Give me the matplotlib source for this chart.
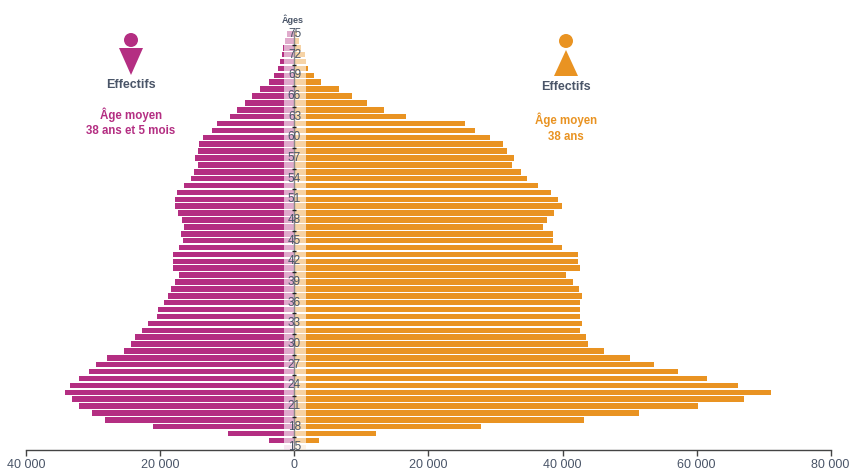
import numpy as np
import matplotlib
matplotlib.use("Agg")
import matplotlib.pyplot as plt
from matplotlib.patches import Circle, Polygon

ages = list(range(16, 76))
hommes = [3800, 9900, 21100, 28300, 30200, 32200, 33200, 34250, 33500, 32200,
          30700, 29600, 28000, 25450, 24400, 23800, 22800, 21900, 20500, 20400,
          19500, 18900, 18400, 17800, 17200, 18100, 18100, 18100, 17200, 16600,
          16900, 16500, 16800, 17400, 17800, 17800, 17500, 16500, 15400, 15000,
          14400, 14850, 14400, 14250, 13650, 12300, 11550, 9600, 8600, 7400,
          6350, 5150, 3800, 3050, 2450, 2150, 1850, 1700, 1400, 1100]
femmes = [3650, 12150, 27850, 43200, 51400, 60200, 67100, 71100, 66200, 61550,
          57250, 53650, 50050, 46200, 43800, 43500, 42600, 42900, 42600, 42600,
          42600, 42900, 42450, 41550, 40500, 42600, 42300, 42300, 39900, 38600,
          38600, 37100, 37700, 38700, 39900, 39300, 38300, 36350, 34700, 33800,
          32450, 32750, 31700, 31100, 29200, 26950, 25450, 16650, 13350, 10800,
          8600, 6650, 3950, 2900, 2000, 1700, 1550, 970, 670, 370]
age_labels = list(range(15, 76, 3))
x_ticks = [-40000, -20000, 0, 20000, 40000, 60000, 80000]
x_tick_labels = ["40 000", "20 000", "0", "20 000", "40 000", "60 000", "80 000"]

PINK = "#B42E82"
ORANGE = "#E99322"
SLATE = "#4A5568"
FONT = ["Liberation Sans", "DejaVu Sans"]
plt.rcParams["font.family"] = FONT

fig = plt.figure(figsize=(8.53, 4.70), dpi=100)
ax = fig.add_axes([0, 0, 1, 1])
ax.patch.set_alpha(0)
ax.set_xlim(-43955, 83358)
ax.set_ylim(11.72, 79.93)

ax.barh(ages, -np.array(hommes), height=0.8, color=PINK, zorder=2)
ax.barh(ages, femmes, height=0.8, color=ORANGE, zorder=2)

# lighter central band over the bars
ax.barh(ages, -np.minimum(hommes, 1570), height=0.8, color="white", alpha=0.6, zorder=3)
ax.barh(ages, np.minimum(femmes, 1700), height=0.8, color="white", alpha=0.6, zorder=3)
ax.barh([15], [-1570], height=0.8, color="#E0A9CE", alpha=0.25, zorder=3)
ax.barh([15], [1700], height=0.8, color="#F7D3A5", alpha=0.25, zorder=3)

ax.plot([0, 0], [14.55, 75.5], color="#8A8A8A", lw=1, zorder=4)
ax.plot([0] * 20, [16.45 + 3 * i for i in range(20)], ls="none", marker="_",
        ms=3, mew=1, color="#222222", zorder=5)
for a in age_labels:
    ax.text(0, a, str(a), ha="center", va="center", fontsize=8.5, color=SLATE,
            zorder=6)

for s in ("top", "left", "right"):
    ax.spines[s].set_visible(False)
ax.spines["bottom"].set_position(("data", 14.55))
ax.spines["bottom"].set_bounds(-40000, 80000)
ax.spines["bottom"].set_color("#444444")
ax.spines["bottom"].set_linewidth(1)
ax.set_yticks([])
ax.set_xticks(x_ticks)
ax.set_xticklabels(x_tick_labels, fontsize=9, color=SLATE)
ax.tick_params(axis="x", length=4, width=1, color="#444444", pad=2)

# annotations in pixel coordinates
ov = fig.add_axes([0, 0, 1, 1])
ov.set_xlim(0, 853)
ov.set_ylim(470, 0)
ov.axis("off")
ov.patch.set_alpha(0)
ov.add_patch(Circle((131, 40), 7, color=PINK, lw=0))
ov.add_patch(Polygon([(119, 48), (143, 48), (131, 75)], color=PINK, lw=0))
ov.add_patch(Circle((566, 41), 7, color=ORANGE, lw=0))
ov.add_patch(Polygon([(566, 50), (578, 76), (554, 76)], color=ORANGE, lw=0))

def label(x, y, s, c, size=8.3):
    ov.text(x, y, s, ha="center", va="center", color=c, fontsize=size, fontweight="bold")

label(131, 85, "Effectifs", SLATE, 9)
label(131, 115, "Âge moyen", PINK)
label(131, 131, "38 ans et 5 mois", PINK)
label(566, 87, "Effectifs", SLATE, 9)
label(566, 120, "Âge moyen", ORANGE)
label(566, 137, "38 ans", ORANGE)
ov.text(293, 20, "Âges", ha="center", va="center", color=SLATE, fontsize=6.5, fontweight="bold")

fig.savefig("out.png", dpi=100)
